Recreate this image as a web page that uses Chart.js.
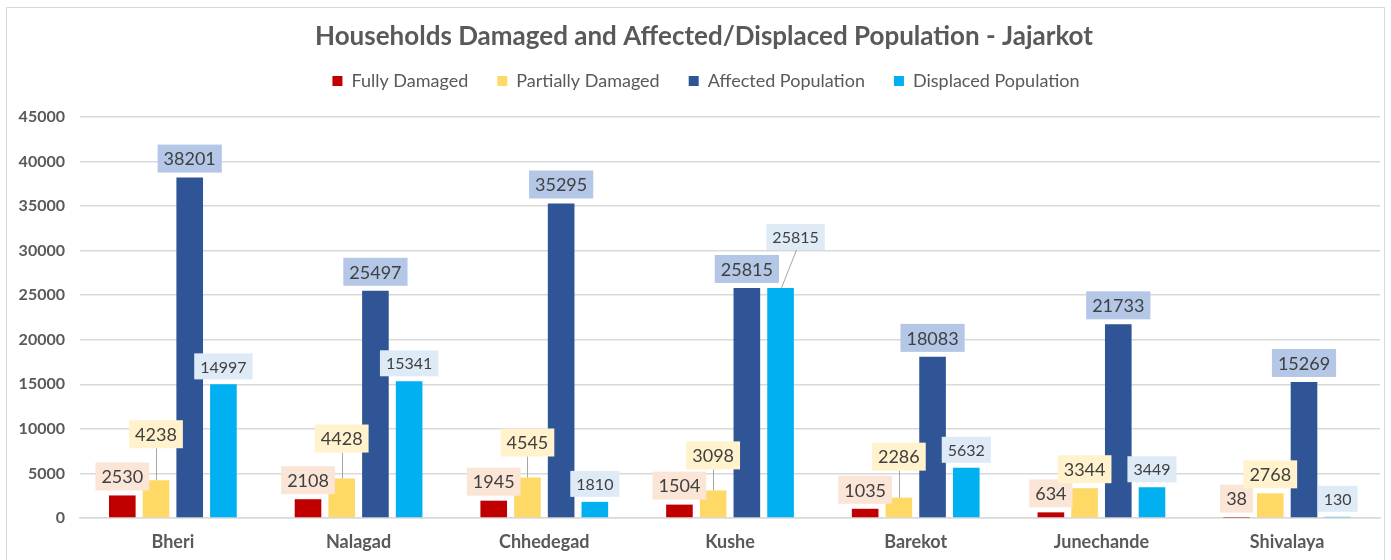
<!DOCTYPE html>
<html>
<head>
<meta charset="utf-8">
<title>Households Damaged and Affected/Displaced Population - Jajarkot</title>
<script src="https://cdn.jsdelivr.net/npm/chart.js@4.4.0/dist/chart.umd.min.js"></script>
<style>
  html, body { margin: 0; padding: 0; background: #fff; }
</style>
</head>
<body>
<canvas id="chart" width="1391" height="560"></canvas>
<script>
// data
const municipalities = ['Bheri', 'Nalagad', 'Chhedegad', 'Kushe', 'Barekot', 'Junechande', 'Shivalaya'];
const fullyDamaged = [2530, 2108, 1945, 1504, 1035, 634, 38];
const partiallyDamaged = [4238, 4428, 4545, 3098, 2286, 3344, 2768];
const affectedPopulation = [38201, 25497, 35295, 25815, 18083, 21733, 15269];
const displacedPopulation = [14997, 15341, 1810, 25815, 5632, 3449, 130];
const yTicks = [0, 5000, 10000, 15000, 20000, 25000, 30000, 35000, 40000, 45000];

const GREY = '#595959';

// white background + thin frame around the chart
const frame = {
  id: 'frame',
  beforeDraw(chart) {
    const ctx = chart.ctx;
    ctx.save();
    ctx.fillStyle = '#fff';
    ctx.fillRect(0, 0, chart.width, chart.height);
    ctx.strokeStyle = '#d9d9d9';
    ctx.lineWidth = 1;
    ctx.strokeRect(6.5, 7.5, chart.width - 13, chart.height + 10);
    ctx.restore();
  }
};

// legend block tall enough so the plot starts where the original does,
// then nudge title/legend a bit to the right like the original
const headerTweak = {
  id: 'headerTweak',
  beforeInit(chart) {
    const fit = chart.legend.fit;
    chart.legend.fit = function () {
      fit.call(this);
      this.height = 64.4;
    };
  },
  afterLayout(chart) {
    const t = chart.titleBlock;
    t.left += 8; t.right += 8;
    const lg = chart.legend;
    lg.left += 10; lg.right += 10;
    lg.top = 43;
  }
};

// value labels in tinted boxes, a few pushed up with a leader line
const barLabels = {
  id: 'barLabels',
  afterDatasetsDraw(chart, args, opts) {
    const ctx = chart.ctx;
    chart.data.datasets.forEach((ds, di) => {
      const meta = chart.getDatasetMeta(di);
      const size = opts.fontSizes[di];
      ctx.save();
      ctx.font = size + 'px Lato';
      ctx.textAlign = 'center';
      ctx.textBaseline = 'middle';
      meta.data.forEach((bar, i) => {
        const text = String(ds.data[i]);
        const n = opts.nudges.find(o => o.dataset === di && o.index === i) || { dx: 0, dy: 0 };
        const w = ctx.measureText(text).width + 12;
        const h = size + 10;
        const cx = bar.x + n.dx;
        const bottom = bar.y - 5 - n.dy;
        if (n.dx || n.dy) {
          ctx.strokeStyle = '#a6a6a6';
          ctx.lineWidth = 1;
          ctx.beginPath();
          ctx.moveTo(Math.round(cx) + 0.5, bottom);
          ctx.lineTo(Math.round(bar.x) + 0.5, bar.y);
          ctx.stroke();
        }
        ctx.fillStyle = opts.boxColors[di];
        ctx.fillRect(cx - w / 2, bottom - h, w, h);
        ctx.fillStyle = '#404040';
        ctx.fillText(text, cx, bottom - h / 2 + 1);
      });
      ctx.restore();
    });
  }
};

new Chart(document.getElementById('chart'), {
  type: 'bar',
  data: {
    labels: municipalities,
    datasets: [
      { label: 'Fully Damaged', data: fullyDamaged, backgroundColor: '#c00000' },
      { label: 'Partially Damaged', data: partiallyDamaged, backgroundColor: '#ffd966' },
      { label: 'Affected Population', data: affectedPopulation, backgroundColor: '#2f5597' },
      { label: 'Displaced Population', data: displacedPopulation, backgroundColor: '#00b0f0' }
    ]
  },
  options: {
    responsive: false,
    animation: false,
    layout: { padding: { top: 0, left: 12, right: 11, bottom: 0 } },
    datasets: { bar: { categoryPercentage: 0.726, barPercentage: 0.79 } },
    scales: {
      x: {
        grid: { display: false, drawTicks: false },
        border: { display: true, color: '#d9d9d9', width: 1.5 },
        ticks: { color: GREY, padding: 13, font: { family: 'Lato', size: 18, weight: 'bold' } },
        afterFit: s => { s.height = 42; }
      },
      y: {
        min: 0,
        max: 45000,
        afterBuildTicks: s => { s.ticks = yTicks.map(v => ({ value: v })); },
        grid: { color: '#d9d9d9', lineWidth: 1.5, drawTicks: false },
        border: { display: false },
        ticks: { color: GREY, padding: 15, font: { family: 'Lato', size: 16, weight: 'bold' }, callback: v => String(v) },
        afterFit: s => { s.width = 68; }
      }
    },
    plugins: {
      title: {
        display: true,
        text: 'Households Damaged and Affected/Displaced Population - Jajarkot',
        color: GREY,
        font: { family: 'Lato', size: 26, weight: 'bold', lineHeight: 1.2 },
        padding: { top: 21.4, bottom: 0 }
      },
      legend: {
        position: 'top',
        labels: { color: GREY, boxWidth: 10, boxHeight: 10, padding: 29, font: { family: 'Lato', size: 18 } }
      },
      tooltip: { enabled: false },
      barLabels: {
        fontSizes: [18, 18, 18, 16],
        boxColors: ['#fbe5d6', '#fff2cc', '#b4c7e7', '#deebf7'],
        nudges: [
          { dataset: 1, index: 0, dx: 0, dy: 27 },
          { dataset: 1, index: 1, dx: 0, dy: 21 },
          { dataset: 1, index: 2, dx: 0, dy: 16 },
          { dataset: 1, index: 3, dx: 0, dy: 16 },
          { dataset: 1, index: 4, dx: 0, dy: 22 },
          { dataset: 3, index: 3, dx: 15, dy: 33 }
        ]
      }
    }
  },
  plugins: [frame, headerTweak, barLabels]
});
</script>
</body>
</html>
